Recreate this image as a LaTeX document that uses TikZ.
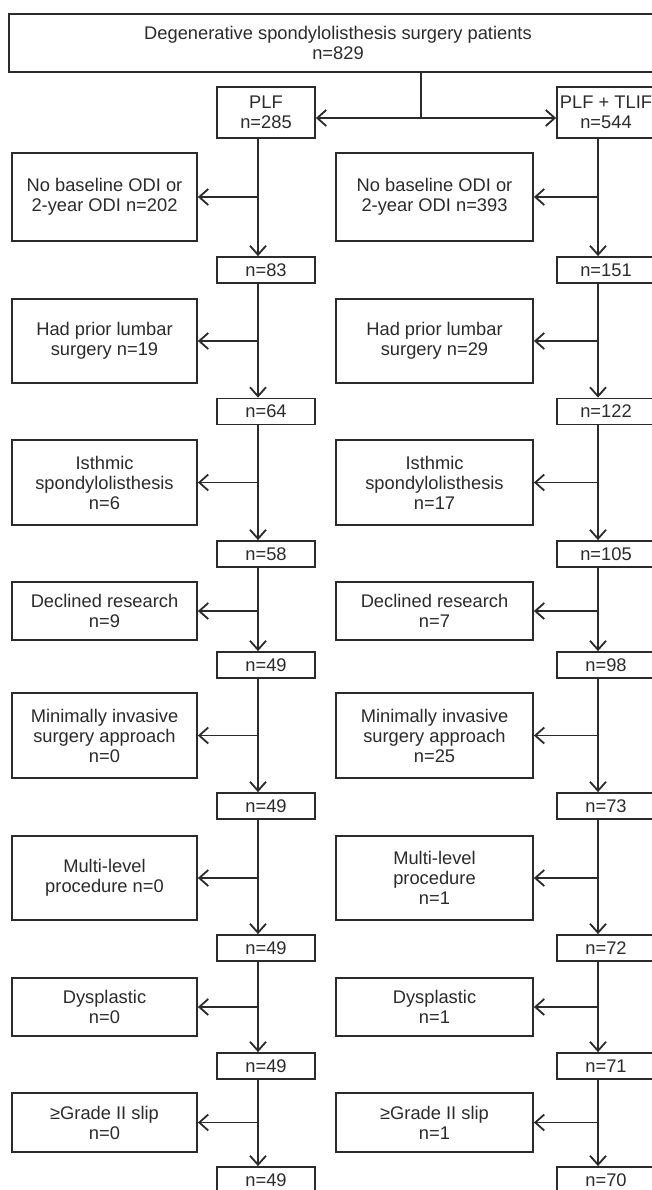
\documentclass[tikz,border=0pt]{standalone}
\usepackage{fontspec}
\setmainfont{Liberation Sans}
\usetikzlibrary{arrows.meta}
\definecolor{lnc}{HTML}{2B2B2B}
\begin{document}
\begin{tikzpicture}[x=1pt,y=-1pt,
  bx/.style={draw=lnc, line width=1.8pt, inner sep=0pt, align=center, text=lnc, font=\fontsize{18.3}{20}\selectfont},
  nb/.style={bx, minimum width=98pt, minimum height=26pt},
  lb/.style={bx, minimum width=185pt},
  rb/.style={bx, minimum width=197pt},
  conn/.style={draw=lnc, line width=1.8pt},
  ar/.style={conn, -{Straight Barb[length=9pt,width=16pt,line width=1.8pt]}},
  dar/.style={conn, {Straight Barb[length=9pt,width=16pt,line width=1.8pt]}-{Straight Barb[length=9pt,width=16pt,line width=1.8pt]}}]
\useasboundingbox (0,0) rectangle (652,1190);
\clip (0,0) rectangle (652,1190);
\fill[white] (0,0) rectangle (652,1190);

\node[bx, minimum width=658pt, minimum height=58pt] (top) at (338,43) {Degenerative spondylolisthesis surgery patients\\n=829};
\node[nb, minimum height=51pt] (nl0) at (266,112.5) {PLF\\n=285};
\node[nb, minimum height=51pt] (nr0) at (606,112.5) {PLF + TLIF\\n=544};

\coordinate (lx) at (258,0);
\coordinate (rx) at (598,0);
\coordinate (split) at (421,118);

% left exclusion boxes
\node[lb, minimum height=88pt] (el1) at (104.5,197) {No baseline ODI or\\2-year ODI n=202};
\node[lb, minimum height=84pt] (el2) at (104.5,341) {Had prior lumbar\\surgery n=19};
\node[lb, minimum height=85pt] (el3) at (104.5,482.5) {Isthmic\\spondylolisthesis\\n=6};
\node[lb, minimum height=58pt] (el4) at (104.5,611) {Declined research\\n=9};
\node[lb, minimum height=85pt] (el5) at (104.5,735.5) {Minimally invasive\\surgery approach\\n=0};
\node[lb, minimum height=84pt] (el6) at (104.5,878) {Multi-level\\procedure n=0};
\node[lb, minimum height=58pt] (el7) at (104.5,1007) {Dysplastic\\n=0};
\node[lb, minimum height=59pt] (el8) at (104.5,1122.5) {≥Grade II slip\\n=0};

% right exclusion boxes
\node[rb, minimum height=88pt] (er1) at (434.5,197) {No baseline ODI or\\2-year ODI n=393};
\node[rb, minimum height=84pt] (er2) at (434.5,341) {Had prior lumbar\\surgery n=29};
\node[rb, minimum height=85pt] (er3) at (434.5,482.5) {Isthmic\\spondylolisthesis\\n=17};
\node[rb, minimum height=58pt] (er4) at (434.5,611) {Declined research\\n=7};
\node[rb, minimum height=85pt] (er5) at (434.5,735.5) {Minimally invasive\\surgery approach\\n=25};
\node[rb, minimum height=84pt] (er6) at (434.5,878) {Multi-level\\procedure\\n=1};
\node[rb, minimum height=58pt] (er7) at (434.5,1007) {Dysplastic\\n=1};
\node[rb, minimum height=59pt] (er8) at (434.5,1122.5) {≥Grade II slip\\n=1};

% count boxes
\node[nb] (nl1) at (266,270) {n=83};
\node[nb] (nl2) at (266,411.5) {n=64};
\node[nb] (nl3) at (266,554) {n=58};
\node[nb] (nl4) at (266,665) {n=49};
\node[nb] (nl5) at (266,806) {n=49};
\node[nb] (nl6) at (266,948) {n=49};
\node[nb] (nl7) at (266,1066) {n=49};
\node[nb] (nl8) at (266,1180) {n=49};

\node[nb] (nr1) at (606,270) {n=151};
\node[nb] (nr2) at (606,411.5) {n=122};
\node[nb] (nr3) at (606,554) {n=105};
\node[nb] (nr4) at (606,665) {n=98};
\node[nb] (nr5) at (606,806) {n=73};
\node[nb] (nr6) at (606,948) {n=72};
\node[nb] (nr7) at (606,1066) {n=71};
\node[nb] (nr8) at (606,1180) {n=70};

% connectors
\draw[conn] (top.south -| split) -- (split);
\draw[dar] (nl0.east |- split) -- (nr0.west |- split);

\foreach \i [evaluate=\i as \p using int(\i-1)] in {1,...,8} {
  \draw[ar] (nl\p.south -| lx) -- (nl\i.north -| lx);
  \draw[ar] (el\i.east -| lx) -- (el\i.east);
  \draw[ar] (nr\p.south -| rx) -- (nr\i.north -| rx);
  \draw[ar] (er\i.east -| rx) -- (er\i.east);
}
\end{tikzpicture}
\end{document}
